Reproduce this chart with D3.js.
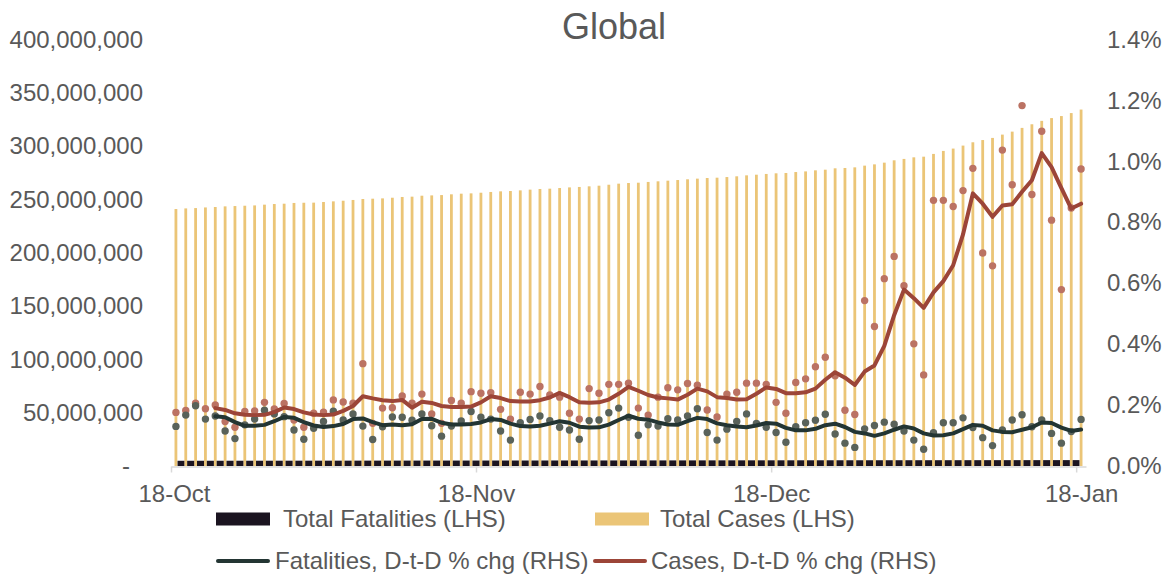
<!DOCTYPE html>
<html>
<head>
<meta charset="utf-8">
<script src="https://cdn.jsdelivr.net/npm/d3@7"></script>
<style>
  html, body { margin: 0; padding: 0; background: #ffffff; }
  svg { display: block; font-family: "Liberation Sans", Arial, sans-serif; }
</style>
</head>
<body>
<svg id="chart" width="1169" height="577"></svg>
<script>
// ---------------- DATA ----------------
const startDate = "2021-10-18";
const endDate = "2022-01-18";
const tickDates = ["2021-10-18", "2021-11-18", "2021-12-18", "2022-01-18"];
const tickLabels = ["18-Oct", "18-Nov", "18-Dec", "18-Jan"];
const leftTicks = [0, 50e6, 100e6, 150e6, 200e6, 250e6, 300e6, 350e6, 400e6];
const rightTicks = [0, 0.2, 0.4, 0.6, 0.8, 1.0, 1.2, 1.4];

// Total cases (millions)
const totalCasesM = [241.0, 241.6, 241.9, 242.5, 242.9, 243.5, 243.8, 244.1, 244.4, 245.1, 245.7, 246.0, 246.7, 246.9, 247.0, 247.6,
  248.2, 248.8, 249.5, 250.4, 250.7, 251.0, 251.6, 252.3, 252.6, 253.5, 253.8, 254.1, 254.8, 255.4, 255.7, 256.3, 257.0, 257.6, 257.9, 258.5,
  259.2, 259.8, 260.1, 260.7, 261.3, 261.7, 262.3, 262.9, 263.8, 264.8, 265.4, 265.7, 266.4, 267.0, 267.6, 268.2, 268.9, 269.5, 270.1, 270.4,
  271.0, 271.7, 272.6, 273.2, 273.9, 274.5, 274.8, 275.7, 276.3, 277.3, 277.9, 279.2, 279.5, 280.1, 281.7, 282.9, 284.5, 286.7, 288.0, 289.5,
  290.1, 292.7, 295.5, 297.7, 300.5, 303.6, 305.7, 307.7, 310.8, 313.6, 317.1, 320.5, 323.7, 326.3, 328.2, 331.0, 334.3];

// Total fatalities (millions)
const totalFatalitiesM = [4.900, 4.909, 4.919, 4.927, 4.935, 4.941, 4.945, 4.952, 4.960, 4.969, 4.978, 4.986, 4.992, 4.997, 5.003, 5.011,
  5.020, 5.028, 5.036, 5.043, 5.047, 5.054, 5.062, 5.070, 5.078, 5.087, 5.093, 5.098, 5.105, 5.113, 5.122, 5.130, 5.138, 5.144, 5.148, 5.155,
  5.163, 5.172, 5.179, 5.186, 5.192, 5.196, 5.204, 5.212, 5.220, 5.230, 5.238, 5.243, 5.250, 5.257, 5.265, 5.273, 5.281, 5.291, 5.296, 5.301,
  5.307, 5.314, 5.323, 5.330, 5.337, 5.342, 5.346, 5.353, 5.360, 5.368, 5.376, 5.382, 5.386, 5.389, 5.395, 5.402, 5.409, 5.416, 5.422, 5.426,
  5.429, 5.435, 5.442, 5.449, 5.457, 5.464, 5.468, 5.472, 5.478, 5.485, 5.494, 5.500, 5.508, 5.514, 5.517, 5.523, 5.531];

// Daily % change of fatalities (dots)
const fatalitiesPct = [0.130, 0.167, 0.198, 0.154, 0.164, 0.115, 0.090, 0.135, 0.154, 0.183, 0.171, 0.162, 0.118, 0.088, 0.124, 0.146,
  0.180, 0.151, 0.171, 0.131, 0.087, 0.129, 0.161, 0.160, 0.150, 0.171, 0.132, 0.098, 0.131, 0.148, 0.179, 0.160, 0.154, 0.115, 0.085, 0.142,
  0.153, 0.164, 0.149, 0.127, 0.118, 0.088, 0.149, 0.151, 0.175, 0.190, 0.160, 0.101, 0.135, 0.131, 0.155, 0.151, 0.164, 0.188, 0.110, 0.085,
  0.121, 0.146, 0.171, 0.140, 0.127, 0.110, 0.078, 0.129, 0.142, 0.150, 0.170, 0.105, 0.075, 0.061, 0.122, 0.133, 0.144, 0.137, 0.115, 0.085,
  0.055, 0.109, 0.142, 0.142, 0.158, 0.126, 0.093, 0.067, 0.118, 0.151, 0.168, 0.129, 0.151, 0.107, 0.075, 0.113, 0.153];

// Daily % change of cases (dots)
const casesPct = [0.176, 0.182, 0.206, 0.188, 0.200, 0.146, 0.127, 0.179, 0.181, 0.209, 0.187, 0.205, 0.151, 0.127, 0.173, 0.177,
  0.217, 0.210, 0.206, 0.336, 0.140, 0.190, 0.191, 0.230, 0.206, 0.236, 0.171, 0.140, 0.215, 0.206, 0.244, 0.239, 0.241, 0.186, 0.154, 0.242,
  0.236, 0.261, 0.233, 0.226, 0.173, 0.154, 0.254, 0.239, 0.268, 0.268, 0.272, 0.190, 0.167, 0.226, 0.257, 0.250, 0.271, 0.265, 0.184, 0.161,
  0.236, 0.242, 0.272, 0.272, 0.268, 0.209, 0.173, 0.274, 0.286, 0.326, 0.357, 0.296, 0.183, 0.169, 0.543, 0.458, 0.615, 0.688, 0.592, 0.401,
  0.299, 0.872, 0.872, 0.852, 0.904, 0.977, 0.699, 0.657, 1.037, 0.923, 1.183, 0.891, 1.099, 0.807, 0.579, 0.847, 0.975];

// Smoothed lines (RHS)
const fatalitiesLine = [null, null, null, null, 0.163, 0.160, 0.144, 0.132, 0.132, 0.135, 0.147, 0.161, 0.158, 0.144, 0.133, 0.128,
  0.131, 0.138, 0.154, 0.156, 0.144, 0.134, 0.136, 0.134, 0.137, 0.154, 0.155, 0.142, 0.136, 0.136, 0.138, 0.143, 0.154, 0.151, 0.139, 0.131,
  0.130, 0.132, 0.139, 0.147, 0.142, 0.129, 0.126, 0.127, 0.136, 0.151, 0.165, 0.155, 0.152, 0.143, 0.136, 0.135, 0.147, 0.158, 0.154, 0.140,
  0.134, 0.130, 0.127, 0.133, 0.141, 0.139, 0.125, 0.117, 0.117, 0.122, 0.134, 0.139, 0.128, 0.112, 0.107, 0.099, 0.107, 0.119, 0.130, 0.123,
  0.107, 0.100, 0.101, 0.107, 0.121, 0.135, 0.132, 0.117, 0.112, 0.111, 0.119, 0.127, 0.143, 0.141, 0.126, 0.115, 0.120];

const casesLine = [null, null, null, null, 0.190, 0.184, 0.173, 0.168, 0.167, 0.168, 0.177, 0.192, 0.187, 0.176, 0.169, 0.167,
  0.169, 0.181, 0.197, 0.229, 0.222, 0.216, 0.213, 0.217, 0.191, 0.211, 0.207, 0.197, 0.194, 0.194, 0.195, 0.209, 0.229, 0.223, 0.213, 0.212,
  0.212, 0.216, 0.225, 0.240, 0.226, 0.209, 0.208, 0.209, 0.218, 0.237, 0.260, 0.247, 0.233, 0.225, 0.222, 0.218, 0.234, 0.254, 0.245, 0.226,
  0.223, 0.218, 0.219, 0.237, 0.258, 0.253, 0.239, 0.239, 0.242, 0.254, 0.283, 0.308, 0.290, 0.266, 0.310, 0.330, 0.394, 0.495, 0.579, 0.551,
  0.519, 0.570, 0.607, 0.659, 0.760, 0.895, 0.861, 0.818, 0.855, 0.859, 0.900, 0.938, 1.027, 0.981, 0.912, 0.845, 0.861];

const legendLabels = ["Total Fatalities (LHS)", "Total Cases (LHS)", "Fatalities, D-t-D % chg (RHS)", "Cases, D-t-D % chg (RHS)"];

// ---------------- CHART ----------------
const C = {
  text: "#595959", yellow: "#EBC577", black: "#1B1420",
  redLine: "#9C4538", redDot: "#BB7263", darkLine: "#233533", darkDot: "#59625A", axis: "#D9D9D9"
};
const FONT = '"Liberation Sans", Arial, sans-serif';
const svg = d3.select("#chart");
svg.append("rect").attr("width", 1169).attr("height", 577).attr("fill", "#fff");

const parse = d3.utcParse("%Y-%m-%d");
const d0 = parse(startDate), dEnd = parse(endDate);
const dates = d3.utcDay.range(d0, d3.utcDay.offset(dEnd, 1));
const data = dates.map((d, i) => ({
  date: d, cases: totalCasesM[i] * 1e6, deaths: totalFatalitiesM[i] * 1e6,
  cp: casesPct[i], fp: fatalitiesPct[i], cl: casesLine[i], fl: fatalitiesLine[i]
}));

const X0 = 171, X1 = 1086, Y0 = 466, Y1 = 39.5;
const xBand = d3.scaleBand().domain(dates.map(d => +d)).range([X0, X1]).padding(0);
const xTime = d3.scaleUtc().domain([d0, d3.utcDay.offset(dEnd, 1)]).range([X0, X1]);
const yL = d3.scaleLinear().domain([0, 400e6]).range([Y0, Y1]);
const yR = d3.scaleLinear().domain([0, 1.4]).range([Y0, Y1]);
const step = xBand.step();
const cx = d => xBand(+d.date) + step / 2;

// Title
svg.append("text").attr("x", 614).attr("y", 39).attr("text-anchor", "middle")
  .attr("font-size", 36).attr("fill", C.text).text("Global");

// Yellow bars (total cases)
const yw = 2.8;
svg.append("g").selectAll("rect").data(data).join("rect")
  .attr("x", d => cx(d) - yw / 2).attr("width", yw)
  .attr("y", d => yL(d.cases)).attr("height", d => Y0 - yL(d.cases))
  .attr("fill", C.yellow);

// Black bars (total fatalities) filling the gaps between yellow bars
const first = data[0], last = data[data.length - 1];
svg.append("clipPath").attr("id", "bclip").append("rect")
  .attr("x", cx(first) + yw / 2).attr("y", 0).attr("width", cx(last) - cx(first) - yw).attr("height", 577);
svg.append("g").attr("clip-path", "url(#bclip)").selectAll("rect").data(data).join("rect")
  .attr("x", d => cx(d) + yw / 2).attr("width", step - yw)
  .attr("y", d => yL(d.deaths)).attr("height", d => Y0 - yL(d.deaths))
  .attr("fill", C.black);

// X axis
const xAxis = d3.axisBottom(xTime)
  .tickValues(tickDates.map(parse))
  .tickFormat((d, i) => tickLabels[i])
  .tickSizeInner(6).tickSizeOuter(0).tickPadding(12);
const gx = svg.append("g").attr("transform", `translate(0,${Y0 + 0.5})`).call(xAxis);
gx.select(".domain").attr("stroke", C.axis).attr("stroke-width", 1.5);
gx.selectAll(".tick line").attr("stroke", C.axis).attr("stroke-width", 1.5);
gx.selectAll(".tick text").attr("fill", C.text).attr("font-size", 24).attr("font-family", FONT)
  .attr("dx", (d, i) => i === 3 ? 5 : (i === 0 ? 3 : 0));

// Left axis
const gl = svg.append("g").attr("transform", "translate(143,0)")
  .call(d3.axisLeft(yL).tickValues(leftTicks).tickSize(0).tickPadding(0)
    .tickFormat(d => d === 0 ? "-" : d3.format(",")(d)));
gl.select(".domain").remove();
gl.selectAll(".tick text").attr("fill", C.text).attr("font-size", 24).attr("font-family", FONT)
  .attr("dx", d => d === 0 ? -13 : 0);

// Right axis
const gr = svg.append("g").attr("transform", "translate(1107,0)")
  .call(d3.axisRight(yR).tickValues(rightTicks).tickSize(0).tickPadding(0)
    .tickFormat(d => d.toFixed(1) + "%"));
gr.select(".domain").remove();
gr.selectAll(".tick text").attr("fill", C.text).attr("font-size", 24).attr("font-family", FONT);

// Dots
const r = 3.7;
svg.append("g").selectAll("circle").data(data).join("circle")
  .attr("cx", cx).attr("cy", d => yR(d.cp)).attr("r", r).attr("fill", C.redDot);
svg.append("g").selectAll("circle").data(data).join("circle")
  .attr("cx", cx).attr("cy", d => yR(d.fp)).attr("r", r).attr("fill", C.darkDot);

// Lines
const lineF = d3.line().defined(d => d.fl != null).x(cx).y(d => yR(d.fl));
const lineC = d3.line().defined(d => d.cl != null).x(cx).y(d => yR(d.cl));
svg.append("path").datum(data).attr("d", lineF).attr("fill", "none")
  .attr("stroke", C.darkLine).attr("stroke-width", 4).attr("stroke-linejoin", "round").attr("stroke-linecap", "round");
svg.append("path").datum(data).attr("d", lineC).attr("fill", "none")
  .attr("stroke", C.redLine).attr("stroke-width", 4).attr("stroke-linejoin", "round").attr("stroke-linecap", "round");

// Legend
const lg = svg.append("g").attr("font-size", 24).attr("fill", C.text);
const items = [
  { label: legendLabels[0], type: "rect", color: C.black, x: 216, y: 519, tx: 283 },
  { label: legendLabels[1], type: "rect", color: C.yellow, x: 595, y: 519, tx: 660 },
  { label: legendLabels[2], type: "line", color: C.darkLine, x: 216, y: 561, tx: 275 },
  { label: legendLabels[3], type: "line", color: C.redLine, x: 593, y: 561, tx: 651 }
];
items.forEach(it => {
  if (it.type === "rect") {
    lg.append("rect").attr("x", it.x).attr("y", it.y - 6.5).attr("width", 54).attr("height", 13).attr("fill", it.color);
  } else {
    lg.append("line").attr("x1", it.x + 2).attr("x2", it.x + 52).attr("y1", it.y).attr("y2", it.y)
      .attr("stroke", it.color).attr("stroke-width", 4).attr("stroke-linecap", "round");
  }
  lg.append("text").attr("x", it.tx).attr("y", it.y).attr("dy", "0.35em").attr("fill", C.text).text(it.label);
});
</script>
</body>
</html>
